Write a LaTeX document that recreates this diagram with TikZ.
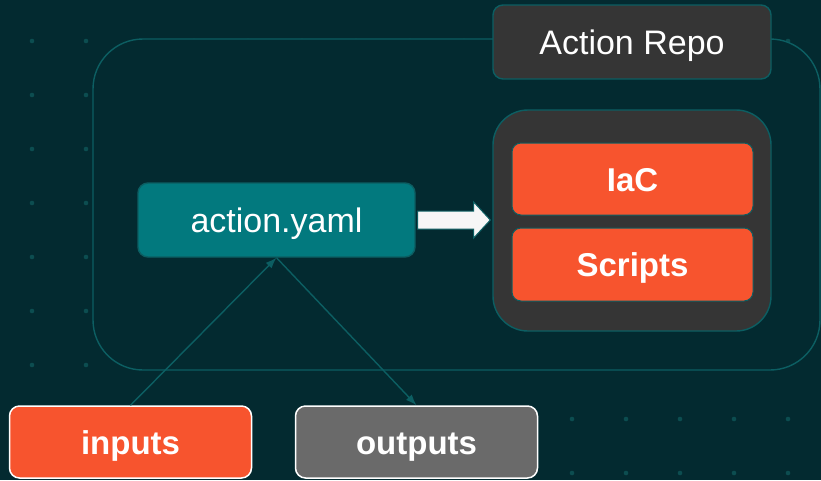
\documentclass[tikz,border=0pt]{standalone}
\usepackage{fontspec}
\setmainfont{Liberation Sans}
\usetikzlibrary{arrows.meta,calc}
\definecolor{bgc}{HTML}{032A30}
\definecolor{dotc}{HTML}{0C4D50}
\definecolor{linec}{HTML}{0C5E62}
\definecolor{tealc}{HTML}{02797E}
\definecolor{orangec}{HTML}{F7542E}
\definecolor{darkg}{HTML}{353535}
\definecolor{midg}{HTML}{6A6A6A}
\definecolor{arrowc}{HTML}{F6F6F6}
\tikzset{
  box/.style={rectangle, rounded corners=10pt, inner sep=0pt, text=white,
              text height=24pt, text depth=0pt},
  regtext/.style={font=\fontsize{34}{38}\selectfont},
  boldtext/.style={font=\fontsize{33}{38}\selectfont\bfseries},
  conn/.style={draw=linec, line width=1.4pt, -{Latex[length=11pt,width=8pt]}},
}
\begin{document}
\begin{tikzpicture}[x=1pt,y=-1pt]
\fill[bgc] (0,0) rectangle (821,480);
\useasboundingbox (0,0) rectangle (821,480);
% dot grid
\foreach \i in {0,...,14}{
  \foreach \j in {0,...,8}{
    \fill[dotc] ({32+54*\i},{41+54*\j}) circle (2.3pt);
  }
}
% frame
\node[box, rounded corners=50pt, draw=linec, line width=1.4pt, fill=bgc,
      minimum width=727pt, minimum height=331pt] (frame) at (456.5,204.5) {};
% action repo label
\node[box, fill=darkg, draw=linec, line width=1.4pt, regtext,
      minimum width=278pt, minimum height=74pt] (repo) at (632,42) {Action Repo};
% container
\node[box, rounded corners=35pt, fill=darkg, draw=linec, line width=1.4pt,
      minimum width=278pt, minimum height=221pt] (container) at (632,220.5) {};
\node[box, rounded corners=9pt, fill=orangec, draw=linec, line width=1pt, boldtext,
      minimum width=241pt, minimum height=72pt] (iac) at (632.5,179) {IaC};
\node[box, rounded corners=9pt, fill=orangec, draw=linec, line width=1pt, boldtext,
      minimum width=241pt, minimum height=73pt] (scripts) at (632.5,264.5) {Scripts};
% action.yaml
\node[box, fill=tealc, draw=linec, line width=1.4pt, regtext,
      minimum width=277pt, minimum height=74pt] (action) at (276.5,220) {action.yaml};
% inputs / outputs
\node[box, fill=orangec, draw=white, line width=1.5pt, boldtext,
      minimum width=242pt, minimum height=72pt] (inputs) at (130.5,442) {inputs};
\node[box, fill=midg, draw=white, line width=1.5pt, boldtext,
      minimum width=242pt, minimum height=72pt] (outputs) at (416.5,442) {outputs};
% block arrow
\draw[fill=arrowc, draw=linec, line width=1pt, line join=miter]
  ($(action.east)+(2,-9)$) -- ($(action.east)+(58,-9)$) -- ($(action.east)+(58,-18)$)
  -- ($(container.west)+(-2,-0.5)$)
  -- ($(action.east)+(58,18)$) -- ($(action.east)+(58,9)$) -- ($(action.east)+(2,9)$) -- cycle;
% connectors
\draw[conn] (inputs.north) -- (action.south);
\draw[conn] (action.south) -- (outputs.north);
\end{tikzpicture}
\end{document}
